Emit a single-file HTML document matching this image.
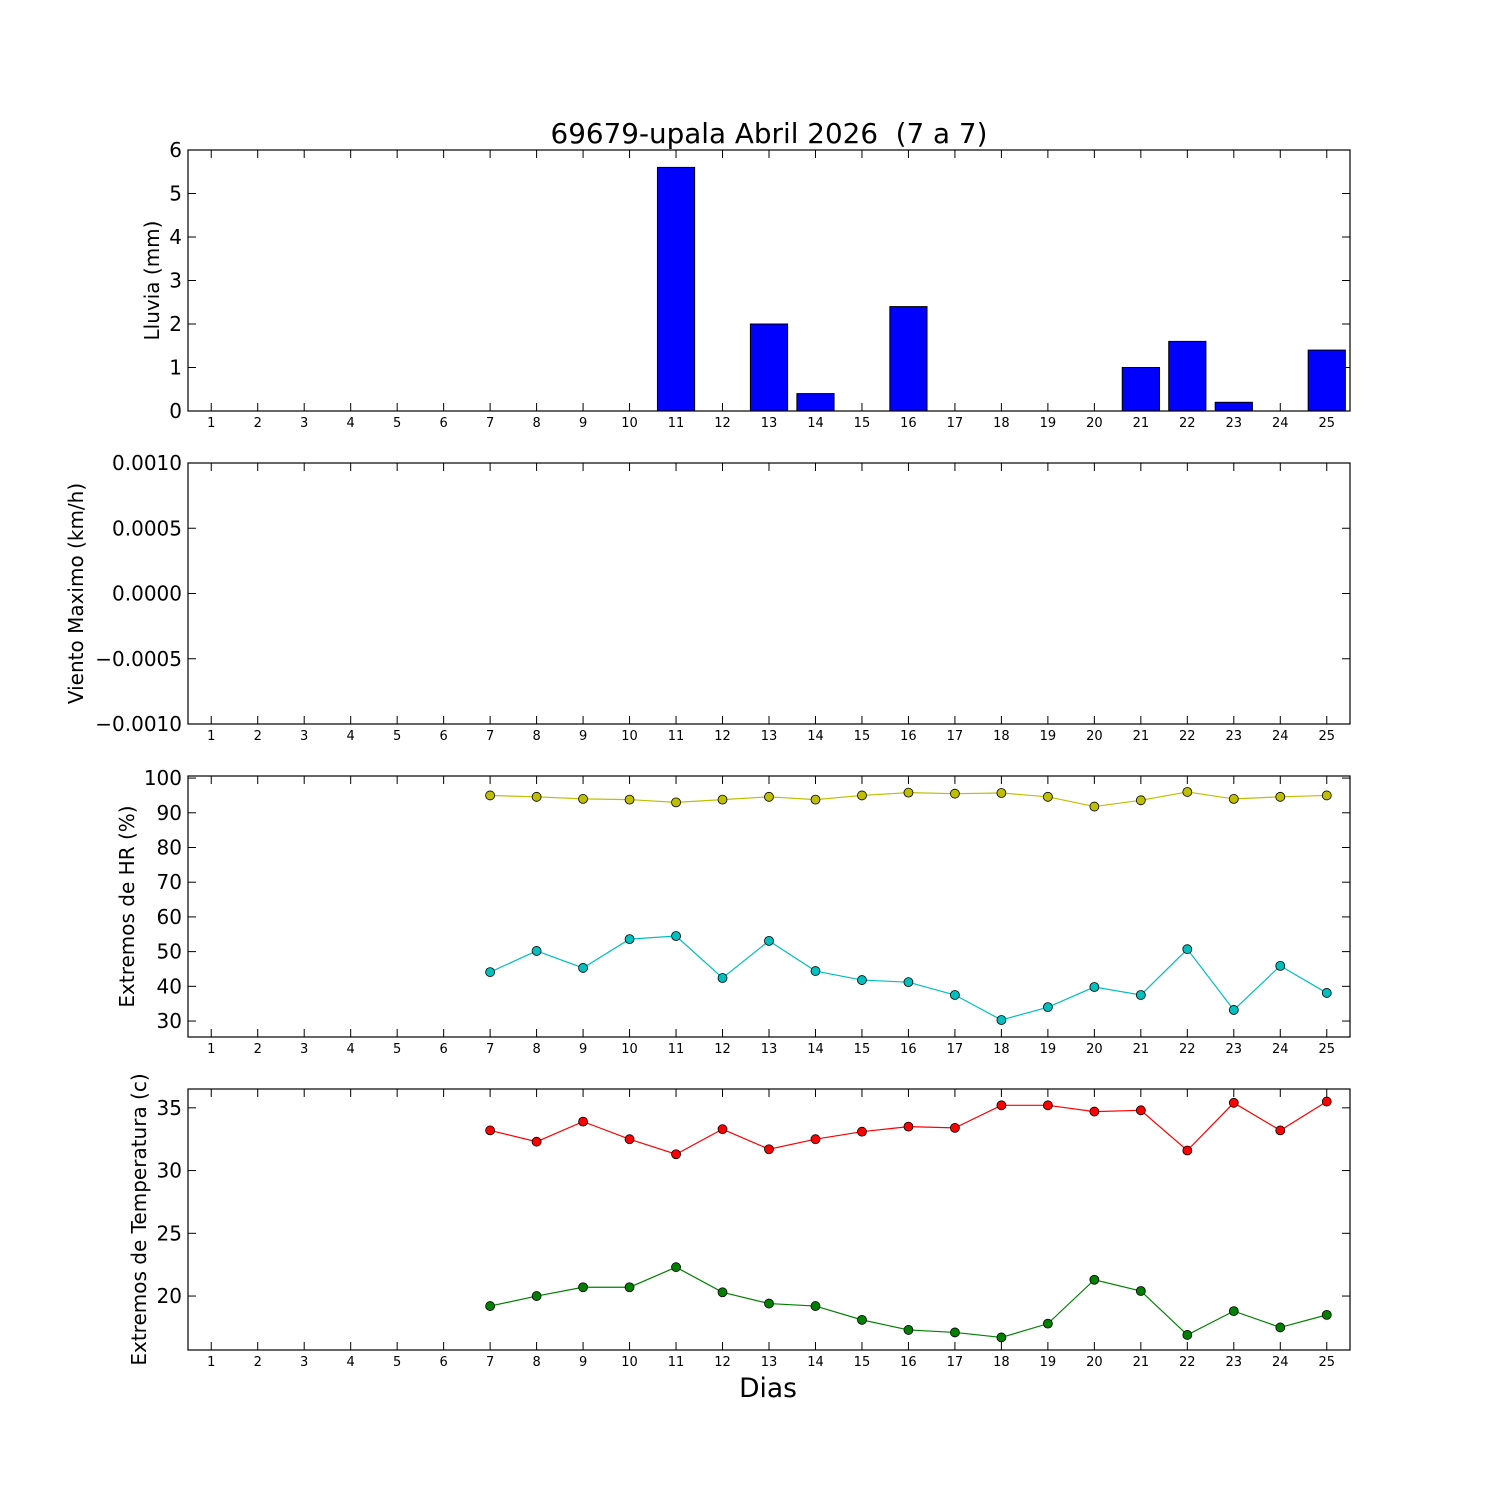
<!DOCTYPE html>
<html><head><meta charset="utf-8"><style>
html,body{margin:0;padding:0;background:#fff;}
svg{display:block;font-family:"DejaVu Sans","Liberation Sans",sans-serif;}
</style></head><body>
<svg id="chart" width="1500" height="1500" viewBox="0 0 1500 1500" xmlns="http://www.w3.org/2000/svg">
<rect width="1500" height="1500" fill="#fff"/>
<text x="769" y="143" font-size="27.8" text-anchor="middle" xml:space="preserve" style="white-space:pre">69679-upala Abril 2026  (7 a 7)</text>
<text x="768" y="1397" font-size="26.5" text-anchor="middle">Dias</text>
</svg>
<script>
const days = [1,2,3,4,5,6,7,8,9,10,11,12,13,14,15,16,17,18,19,20,21,22,23,24,25];
const rainDays = [7,8,9,10,11,12,13,14,15,16,17,18,19,20,21,22,23,24,25];
const rain = [0,0,0,0,5.6,0,2.0,0.4,0,2.4,0,0,0,0,1.0,1.6,0.2,0,1.4];
const dataDays = [7,8,9,10,11,12,13,14,15,16,17,18,19,20,21,22,23,24,25];
const hrMax = [95,94.6,94,93.8,93,93.8,94.6,93.8,95,95.8,95.5,95.7,94.6,91.8,93.6,96,94,94.6,95];
const hrMin = [44.1,50.2,45.3,53.6,54.5,42.4,53.1,44.4,41.8,41.2,37.5,30.3,34,39.8,37.5,50.7,33.2,45.9,38.1];
const tMax = [33.2,32.3,33.9,32.5,31.3,33.3,31.7,32.5,33.1,33.5,33.4,35.2,35.2,34.7,34.8,31.6,35.4,33.2,35.5];
const tMin = [19.2,20,20.7,20.7,22.3,20.3,19.4,19.2,18.1,17.3,17.1,16.7,17.8,21.3,20.4,16.9,18.8,17.5,18.5];
const rainTicks = ["0","1","2","3","4","5","6"];
const windTicks = ["\u22120.0010","\u22120.0005","0.0000","0.0005","0.0010"];
const hrTicks = ["30","40","50","60","70","80","90","100"];
const tTicks = ["20","25","30","35"];

const svg = document.getElementById('chart');
const NS = 'http://www.w3.org/2000/svg';
function mk(tag, attrs, parent){const e=document.createElementNS(NS,tag);for(const k in attrs)e.setAttribute(k,attrs[k]);(parent||svg).appendChild(e);return e;}
const X0=188, X1=1350;
function xs(d){return X0+(d-0.5)*(X1-X0)/25;}

function panel(name, top, bot, ymin, ymax, ticks, ylabel, labelX){
  const g=mk('g',{});
  
  
  const ys=v=>bot-(v-ymin)/(ymax-ymin)*(bot-top);
  ticks.forEach(t=>{
    const v=parseFloat(t.replace('\u2212','-'));const y=ys(v);
    mk('line',{x1:X0,x2:X0+8,y1:y,y2:y,stroke:'#000'},g);
    mk('line',{x1:X1,x2:X1-8,y1:y,y2:y,stroke:'#000'},g);
    const tx=mk('text',{x:X0-6,y:y+7,'font-size':20,'text-anchor':'end'},g);
    tx.textContent=t;
    
    
  });
  days.forEach(d=>{
    const x=xs(d);
    mk('line',{x1:x,x2:x,y1:bot,y2:bot-8,stroke:'#000'},g);
    mk('line',{x1:x,x2:x,y1:top,y2:top+8,stroke:'#000'},g);
    const tx=mk('text',{x:x,y:bot+16,'font-size':13,'text-anchor':'middle'},g);
    tx.textContent=d;
    
    
  });
  const cy=(top+bot)/2;
  const yl=mk('text',{x:labelX,y:cy,'font-size':20,'text-anchor':'middle',transform:`rotate(-90 ${labelX} ${cy})`},g);
  yl.textContent=ylabel;
  
  
  return {g,ys,top,bot};
}
function frame(p){mk('rect',{x:X0,y:p.top,width:X1-X0,height:p.bot-p.top,fill:'none',stroke:'#000','stroke-width':1.2},p.g);}
function series(p, vals, color, name){
  const pts=dataDays.map((d,i)=>xs(d)+','+p.ys(vals[i])).join(' ');
  const l=mk('polyline',{points:pts,fill:'none',stroke:color,'stroke-width':1.2},p.g);
  
  
  dataDays.forEach((d,i)=>{
    const c=mk('circle',{cx:xs(d),cy:p.ys(vals[i]),r:4.5,fill:color,stroke:'#000','stroke-width':0.8},p.g);
    
    
  });
}

const p1=panel('rain',150,411,0,6,rainTicks,'Lluvia (mm)',159);
const bw=(X1-X0)/25*0.8;
rainDays.forEach((d,i)=>{
  const y=p1.ys(rain[i]);
  const r=mk('rect',{x:xs(d)-bw/2,y:y,width:bw,height:Math.max(0,411-y),fill:'#0000ff',stroke:'#000','stroke-width':1},p1.g);
  
  
});
frame(p1);

const p2=panel('wind',463,724,-0.001,0.001,windTicks,'Viento Maximo (km/h)',83);
frame(p2);

const p3=panel('humidity',776,1037,25.4,100.6,hrTicks,'Extremos de HR (%)',134);
series(p3,hrMax,'#bfbf00','hr-max');
series(p3,hrMin,'#00bfbf','hr-min');
frame(p3);

const p4=panel('temperature',1089,1350,15.7,36.5,tTicks,'Extremos de Temperatura (c)',146);
series(p4,tMax,'#ff0000','temp-max');
series(p4,tMin,'#008000','temp-min');
frame(p4);
</script>
</body></html>
